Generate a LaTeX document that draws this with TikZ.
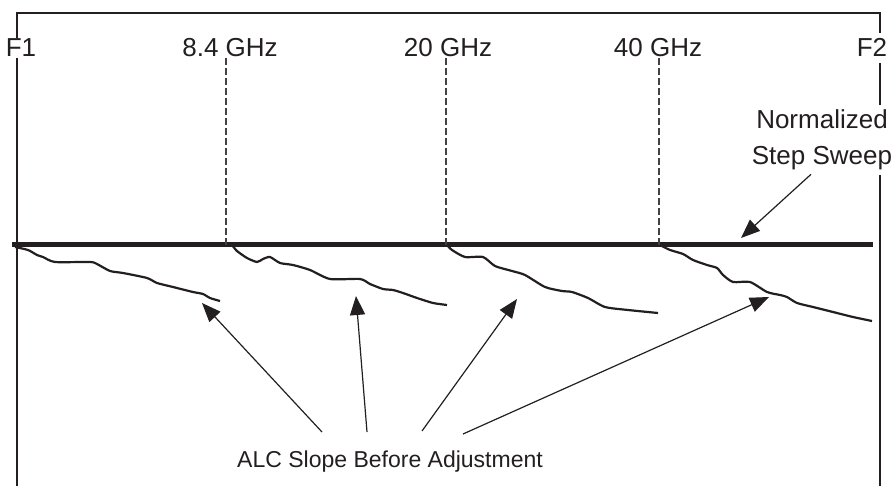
\documentclass[tikz,border=0pt]{standalone}
\usepackage{fontspec}
\setmainfont{Liberation Sans}
\usetikzlibrary{arrows.meta,positioning,calc}
\definecolor{ink}{RGB}{35,31,32}

\begin{document}
\begin{tikzpicture}[
    x=1pt, y=-1pt,
    lbl/.style={fill=white, inner sep=1pt, text=ink, font=\fontsize{26}{36}\selectfont},
    frame/.style={draw=ink, line width=1.2pt},
    marker/.style={draw=ink!85, dash pattern=on 7pt off 3pt, line width=1.1pt},
    sweep/.style={draw=ink, line width=5pt},
    slope/.style={draw=ink, line width=2.2pt, line join=round},
    arrow/.style={-{Triangle[length=19pt,width=15pt]}, draw=ink, line width=1.2pt}
]
    \useasboundingbox (0,0) rectangle (894,486);

    % frame round the sweep
    \draw[frame] (17,486) -- (17,13) -- (880,13) -- (880,486);

    % band edges and marker frequencies
    \node[lbl, anchor=base] (f1) at (21,57) {F1};
    \node[lbl, anchor=base] (g1) at (230,57) {8.4 GHz};
    \node[lbl, anchor=base] (g2) at (448,57) {20 GHz};
    \node[lbl, anchor=base] (g3) at (658,57) {40 GHz};
    \node[lbl, anchor=base, inner sep=6pt] (f2) at (872,57) {F2};
    \node[lbl, align=center, inner sep=5pt] (norm) at (822,140) {Normalized\\Step Sweep};

    % normalized step sweep
    \coordinate (sweepL) at (12,245);
    \coordinate (sweepR) at (873,245);
    \coordinate (m1) at (226,245);
    \coordinate (m2) at (446,245);
    \coordinate (m3) at (659,245);
    \draw[sweep] (sweepL) -- (sweepR);
    \foreach \m/\g in {m1/g1, m2/g2, m3/g3}
        \draw[marker] (\m) -- (\m |- \g.south);

    % ALC slope per band
    \draw[slope] plot[smooth, tension=.4] coordinates {(15,247) (28,250) (37,255) (43,257) (55,262) (90,262) (97,264) (110,271) (123,273) (147,278) (157,283) (173,287) (193,292) (203,294) (210,298) (220,301)};
    \draw[slope] plot[smooth, tension=.4] coordinates {(232,245) (237,251) (247,258) (257,262) (263,259) (270,257) (280,263) (293,265) (310,270) (330,279) (360,279) (370,284) (383,289) (393,290) (403,293) (417,298) (433,303) (447,305)};
    \draw[slope] plot[smooth, tension=.4] coordinates {(447,245) (452,250) (465,257) (483,257) (495,266) (512,271) (525,275) (545,287) (562,291) (572,292) (588,298) (605,307) (628,310) (658,313)};
    \draw[slope] plot[smooth, tension=.4] coordinates {(660,245) (670,250) (683,254) (693,260) (707,265) (717,268) (723,275) (733,282) (750,282) (767,292) (780,295) (787,297) (797,303) (813,307) (833,312) (853,317) (872,321)};

    % callouts
    \node[lbl, font=\fontsize{23}{28}\selectfont, anchor=base] (alc) at (390,467) {ALC Slope Before Adjustment};
    \coordinate (s1) at (322,432);
    \coordinate (s2) at (367,432);
    \coordinate (s3) at (422,431);
    \coordinate (s4) at (463,434);
    \coordinate (t1) at (202,303);
    \coordinate (t2) at (356,296);
    \coordinate (t3) at (517,299);
    \coordinate (t4) at (769,297);
    \foreach \i in {1,...,4}
        \draw[arrow] (s\i) -- (t\i);
    \coordinate (tn) at (741,238);
    \draw[arrow] ($(norm.south)+(-11,-1)$) -- (tn);
\end{tikzpicture}
\end{document}
